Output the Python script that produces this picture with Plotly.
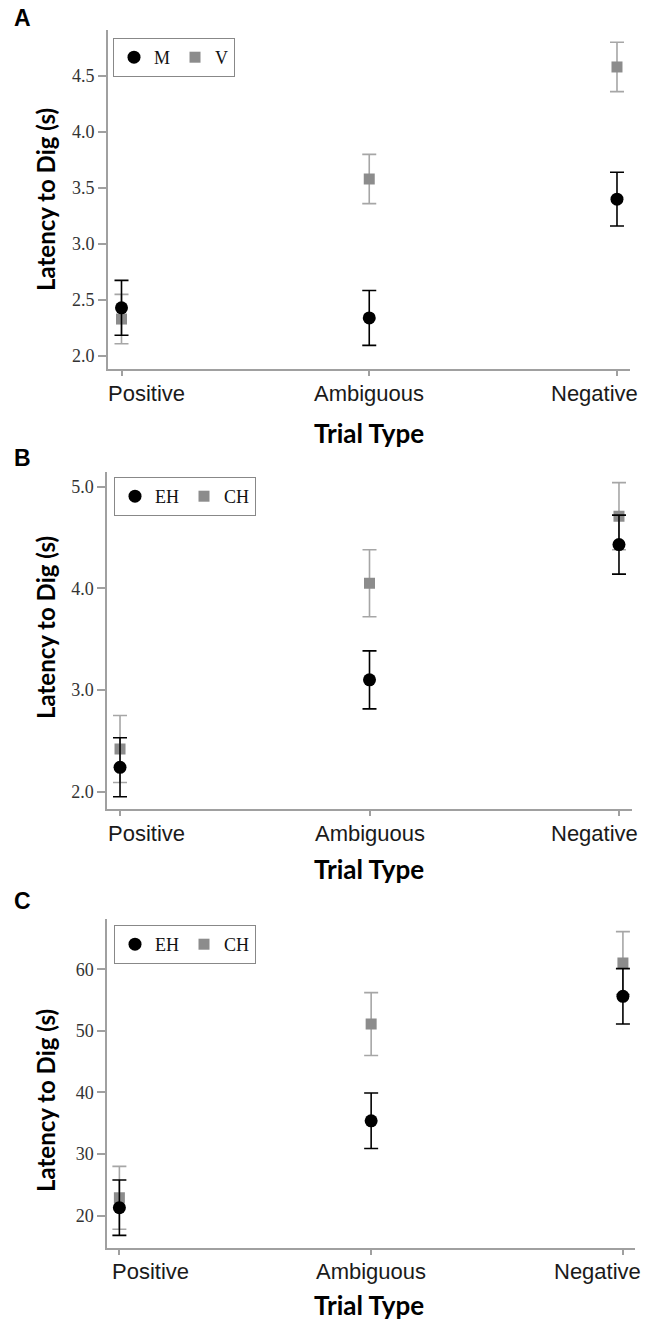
import plotly.graph_objects as go

# ---------------- data ----------------
categories = ["Positive", "Ambiguous", "Negative"]

a_labels = ["M", "V"]
a_m_mean = [2.43, 2.34, 3.40]
a_m_err = [0.245, 0.245, 0.24]
a_v_mean = [2.33, 3.58, 4.58]
a_v_err = [0.22, 0.22, 0.22]

b_labels = ["EH", "CH"]
b_eh_mean = [2.24, 3.10, 4.43]
b_eh_err = [0.29, 0.285, 0.29]
b_ch_mean = [2.42, 4.05, 4.71]
b_ch_err = [0.33, 0.33, 0.33]

c_labels = ["EH", "CH"]
c_eh_mean = [21.3, 35.4, 55.6]
c_eh_err = [4.5, 4.5, 4.5]
c_ch_mean = [22.9, 51.1, 61.0]
c_ch_err = [5.1, 5.1, 5.1]

panel_letters = ["A", "B", "C"]
y_title = "Latency to Dig (s)"
x_title = "Trial Type"

# ---------------- styles ----------------
W, H = 647, 1322
BLACK = "#000000"
GRAY_MK = "#8c8c8c"
GRAY_ERR = "#a6a6a6"
AXIS_COL = "#a0a0a0"
SERIF = "Liberation Serif, Times New Roman, serif"
SANS = "Liberation Sans, Arial, sans-serif"
BOLD = "Lato, Open Sans, sans-serif"


def py(px):
    return 1 - px / H


def px_(x):
    return x / W


fig = go.Figure()

panels = [
    dict(xa="x", ya="y", leg="legend", labels=a_labels,
         black=(a_m_mean, a_m_err), gray=(a_v_mean, a_v_err)),
    dict(xa="x2", ya="y2", leg="legend2", labels=b_labels,
         black=(b_eh_mean, b_eh_err), gray=(b_ch_mean, b_ch_err)),
    dict(xa="x3", ya="y3", leg="legend3", labels=c_labels,
         black=(c_eh_mean, c_eh_err), gray=(c_ch_mean, c_ch_err)),
]

for p in panels:
    fig.add_trace(go.Scatter(
        x=categories, y=p["gray"][0], mode="markers", name=p["labels"][1],
        xaxis=p["xa"], yaxis=p["ya"], legend=p["leg"], legendrank=2,
        marker=dict(symbol="square", size=11, color=GRAY_MK),
        error_y=dict(type="data", array=p["gray"][1], color=GRAY_ERR,
                     thickness=1.6, width=7),
    ))
    fig.add_trace(go.Scatter(
        x=categories, y=p["black"][0], mode="markers", name=p["labels"][0],
        xaxis=p["xa"], yaxis=p["ya"], legend=p["leg"], legendrank=1,
        marker=dict(symbol="circle", size=13, color=BLACK),
        error_y=dict(type="data", array=p["black"][1], color=BLACK,
                     thickness=1.6, width=7),
    ))

# geometry (pixels) for each panel: x0, x1, ytop, ybottom
geo = [
    (108, 630, 30, 369),
    (107.3, 631.7, 471.7, 809.3),
    (107.3, 635, 919.3, 1247.7),
]
xranges = [[-0.0545, 2.0525], [-0.051, 2.051], [-0.048, 2.048]]
yranges = [[1.884, 4.91], [1.827, 5.147], [14.8, 68.1]]
ydticks = [0.5, 1.0, 10]
ytick0 = [2.0, 2.0, 20]
yfmt = [".1f", ".1f", "d"]
legend_pos = [(113, 38), (114, 477), (114, 925)]
# category labels: first is left-aligned, last right-aligned (kept inside)
first_shift = [-15.5, -14, -9.5]
last_shift = [23, 21, 20]
letter_pos = [(12, 18), (12, 458), (12, 901)]
ytitle_y = [200, 628, 1101]
xtitle_y = [433, 869, 1305]

layout = dict(
    template="none",
    width=W, height=H, margin=dict(l=0, r=0, t=0, b=0, autoexpand=False),
    paper_bgcolor="white", plot_bgcolor="white", showlegend=True,
)
annotations = []
for i, (x0, x1, yt, yb) in enumerate(geo):
    sfx = "" if i == 0 else str(i + 1)
    xref = "x" + sfx
    yref_dom = "y" + sfx + " domain"
    layout["xaxis" + sfx] = dict(
        domain=[px_(x0), px_(x1)], anchor="y" + sfx, type="category",
        categoryorder="array", categoryarray=categories,
        range=xranges[i], showline=True, linecolor=AXIS_COL, linewidth=2,
        ticks="outside", ticklen=5, tickwidth=1.5, tickcolor=AXIS_COL,
        showgrid=False, zeroline=False, automargin=False,
        showticklabels=False,
    )
    layout["yaxis" + sfx] = dict(
        domain=[py(yb), py(yt)], anchor="x" + sfx, range=yranges[i],
        tick0=ytick0[i], dtick=ydticks[i], tickformat=yfmt[i],
        showline=True, linecolor=AXIS_COL, linewidth=2,
        ticks="outside", ticklen=8, tickwidth=1.5, tickcolor=AXIS_COL,
        showgrid=False, zeroline=False, automargin=False,
        tickfont=dict(family=SERIF, size=18, color="#333333"),
    )
    # category labels along the x axis
    for j, cat in enumerate(categories):
        if j == 0:
            anchor, shift = "left", first_shift[i]
        elif j == len(categories) - 1:
            anchor, shift = "right", last_shift[i]
        else:
            anchor, shift = "center", 0
        annotations.append(dict(
            text=cat, x=cat, xref=xref, y=0, yref=yref_dom,
            xanchor=anchor, yanchor="middle", xshift=shift, yshift=-24,
            showarrow=False,
            font=dict(family=SANS, size=22, color="#1a1a1a"),
        ))
    lx, ly = legend_pos[i]
    layout["legend" if i == 0 else "legend" + str(i + 1)] = dict(
        x=px_(lx), y=py(ly), xanchor="left", yanchor="top",
        orientation="h", bgcolor="white", bordercolor="#888888",
        borderwidth=1, itemwidth=30, traceorder="normal",
        font=dict(family=SERIF, size=18, color="#111111"),
        itemclick=False, itemdoubleclick=False,
    )
    lxp, lyp = letter_pos[i]
    annotations.append(dict(
        text="<b>%s</b>" % panel_letters[i], x=px_(lxp), y=py(lyp),
        xref="paper", yref="paper", xanchor="left", yanchor="middle",
        showarrow=False, font=dict(family=SANS, size=23, color="black"),
    ))
    annotations.append(dict(
        text="<b>%s</b>" % y_title, x=px_(45), y=py(ytitle_y[i]),
        xref="paper", yref="paper", xanchor="center", yanchor="middle",
        textangle=-90, showarrow=False,
        font=dict(family=BOLD, size=24, color="black"),
    ))
    annotations.append(dict(
        text="<b>%s</b>" % x_title, x=px_(369), y=py(xtitle_y[i]),
        xref="paper", yref="paper", xanchor="center", yanchor="middle",
        showarrow=False, font=dict(family=BOLD, size=26, color="black"),
    ))

layout["annotations"] = annotations
fig.update_layout(**layout)
fig.write_html(
    "out.html",
    config={"displayModeBar": False},
    post_script="document.body.style.margin='0';document.body.style.overflow='hidden';",
)
